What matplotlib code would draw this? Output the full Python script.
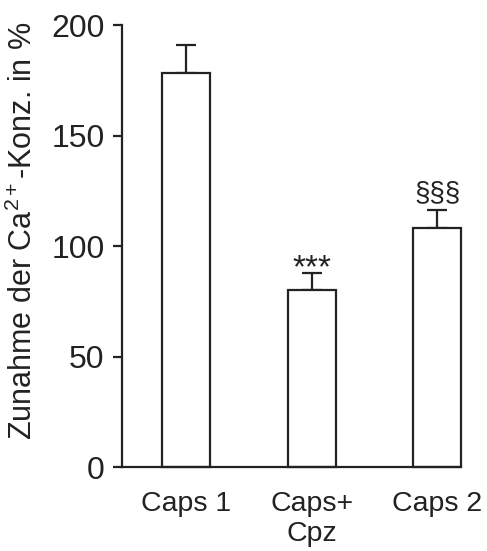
import numpy as np
import matplotlib
matplotlib.use('Agg')
import matplotlib.pyplot as plt

plt.rcParams['font.family'] = ['Liberation Sans', 'DejaVu Sans']
plt.rcParams['mathtext.fontset'] = 'custom'
plt.rcParams['mathtext.rm'] = 'Liberation Sans'
plt.rcParams['mathtext.it'] = 'Liberation Sans'

# Data
groups = ['Caps 1', 'Caps+\nCpz', 'Caps 2']
means = [178.5, 80.0, 108.3]
sem = [12.6, 8.0, 8.0]
marks = ['', '***', '§§§']
yticks = [0, 50, 100, 150, 200]

ink = '#222222'

fig = plt.figure(figsize=(4.87, 5.51), dpi=100)
ax = fig.add_axes([0.2505, 0.1519, 0.696, 0.8027])

x = np.arange(len(groups))
bars = ax.bar(x, means, width=0.382, color='white', edgecolor=ink, linewidth=1.6, zorder=2)
for b in bars:
    b.set_clip_on(False)
ax.errorbar(x, means, yerr=[np.zeros(len(sem)), sem], fmt='none', ecolor=ink,
            elinewidth=1.6, capsize=7, capthick=1.6, zorder=1)

# significance markers above the error bars
for xi, m, s, mk in zip(x, means, sem, marks):
    if mk == '***':
        ax.annotate(mk, xy=(xi, m + s), xytext=(0, -3), textcoords='offset points',
                    ha='center', va='baseline', fontsize=24, color=ink)
    elif mk:
        ax.annotate(mk, xy=(xi, m + s), xytext=(0, 7), textcoords='offset points',
                    ha='center', va='baseline', fontsize=20, color=ink)

ax.set_xlim(-0.5096, 2.189)
ax.set_ylim(0, 200)
ax.set_yticks(yticks)
ax.set_xticks(x)
ax.set_xticklabels(groups, fontsize=20.5, color=ink)
ax.tick_params(axis='x', length=0, pad=17)
ax.tick_params(axis='y', length=6.5, width=1.6, pad=6, labelsize=23, colors=ink)

for side in ['top', 'right']:
    ax.spines[side].set_visible(False)
for side in ['left', 'bottom']:
    ax.spines[side].set_linewidth(1.6)
    ax.spines[side].set_color(ink)

ax.set_ylabel('Zunahme der Ca$^{2+}$-Konz. in %', fontsize=22, color=ink)
ax.yaxis.set_label_coords(-0.245, 0.535)

fig.savefig('out.png', dpi=100)
